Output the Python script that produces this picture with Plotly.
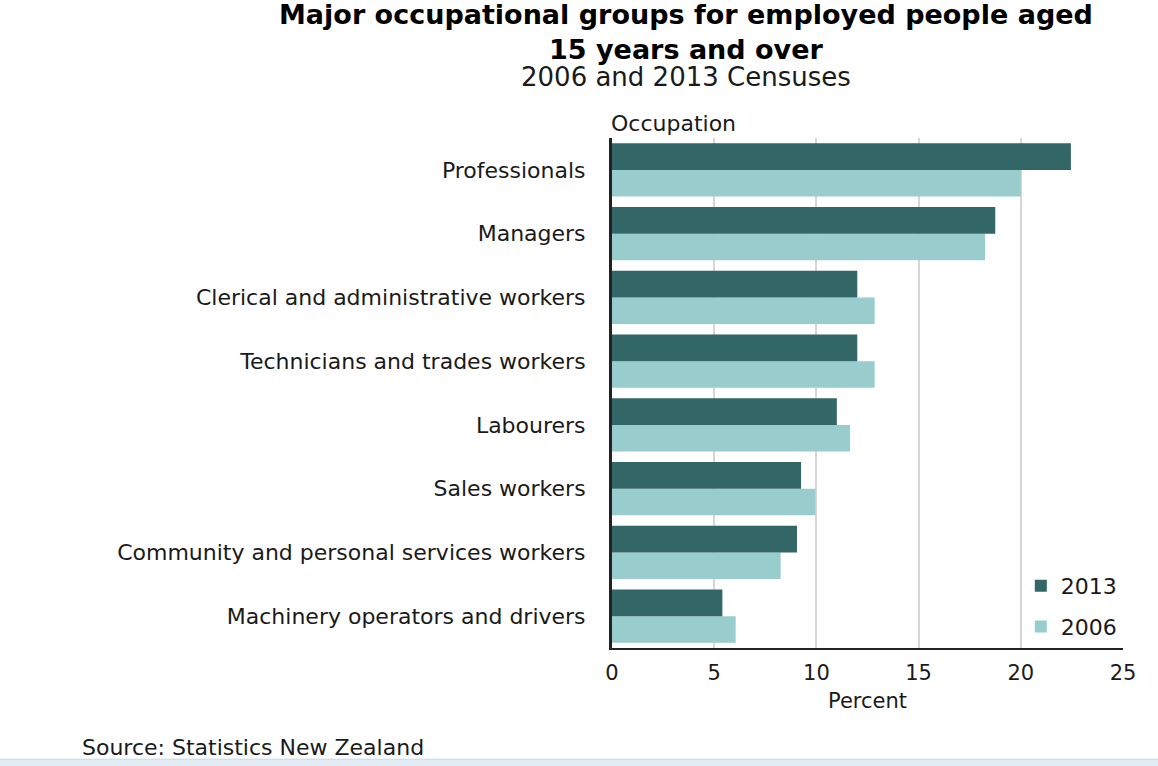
import plotly.graph_objects as go

# data (percent of employed people)
occupations = [
    "Professionals",
    "Managers",
    "Clerical and administrative workers",
    "Technicians and trades workers",
    "Labourers",
    "Sales workers",
    "Community and personal services workers",
    "Machinery operators and drivers",
]
pct_2013 = [22.45, 18.75, 12.0, 12.0, 11.0, 9.25, 9.05, 5.4]
pct_2006 = [20.0, 18.25, 12.85, 12.85, 11.65, 9.95, 8.25, 6.05]
x_ticks = [0, 5, 10, 15, 20, 25]

DARK = "#336666"
LIGHT = "#99cccc"
FONT = "DejaVu Sans, Liberation Sans, sans-serif"

fig = go.Figure()

# 2006 first so it sits on the lower half of each group
fig.add_trace(go.Bar(
    y=occupations, x=pct_2006, name="2006", orientation="h",
    legendgroup="a", legendrank=2,
    marker=dict(color=LIGHT, line=dict(width=0)),
))
fig.add_trace(go.Bar(
    y=occupations, x=pct_2013, name="2013", orientation="h",
    legendgroup="b", legendrank=1,
    marker=dict(color=DARK, line=dict(width=0)),
))

fig.update_layout(
    width=1158, height=766,
    margin=dict(l=612, r=35, t=138, b=118),
    paper_bgcolor="white", plot_bgcolor="white",
    barmode="group", bargap=0.165, bargroupgap=0,
    font=dict(family=FONT, size=22, color="#1a1a1a"),
    showlegend=True,
    legend=dict(
        x=0.8, y=0.0, xanchor="left", yanchor="bottom",
        traceorder="grouped", tracegroupgap=9,
        bgcolor="rgba(0,0,0,0)", font=dict(size=22),
    ),
)

fig.update_xaxes(
    range=[0, 25], tickvals=x_ticks, ticks="",
    showgrid=True, gridcolor="#d6d6d6", gridwidth=2,
    showline=True, linecolor="#222222", linewidth=2,
    zeroline=False, tickfont=dict(size=21), ticklabelstandoff=5,
    title=dict(text="Percent", font=dict(size=21), standoff=9),
)
fig.update_yaxes(
    categoryorder="array", categoryarray=occupations[::-1],
    showgrid=False, showline=True, linecolor="#222222", linewidth=3,
    ticks="", ticklabelstandoff=19, tickfont=dict(size=22),
)

# titles
fig.add_annotation(
    text="<b>Major occupational groups for employed people aged<br>15 years and over</b>",
    xref="paper", yref="paper", x=0.145, y=1.0, xanchor="center", yanchor="middle",
    yshift=106, showarrow=False, font=dict(size=27, color="black"),
)
fig.add_annotation(
    text="2006 and 2013 Censuses",
    xref="paper", yref="paper", x=0.145, y=1.0, xanchor="center", yanchor="middle",
    yshift=61, showarrow=False, font=dict(size=26),
)
fig.add_annotation(
    text="Occupation", xref="paper", yref="paper", x=-0.005, y=1.0,
    xanchor="left", yanchor="bottom", yshift=0, showarrow=False,
    font=dict(size=22),
)
fig.add_annotation(
    text="Source: Statistics New Zealand", xref="paper", yref="paper",
    x=-1.042, y=0, xanchor="left", yanchor="middle", yshift=-99,
    showarrow=False, font=dict(size=22),
)

# light band along the bottom edge of the screenshot
fig.add_shape(
    type="rect", xref="paper", yref="paper", x0=-1.2, x1=1.07,
    y0=-0.218, y1=-0.235, fillcolor="#e2ecf5",
    line=dict(color="#c9d6e3", width=1), layer="below",
)

fig.write_html(
    "out.html",
    config={"displayModeBar": False},
    post_script="document.body.style.margin='0';",
)
